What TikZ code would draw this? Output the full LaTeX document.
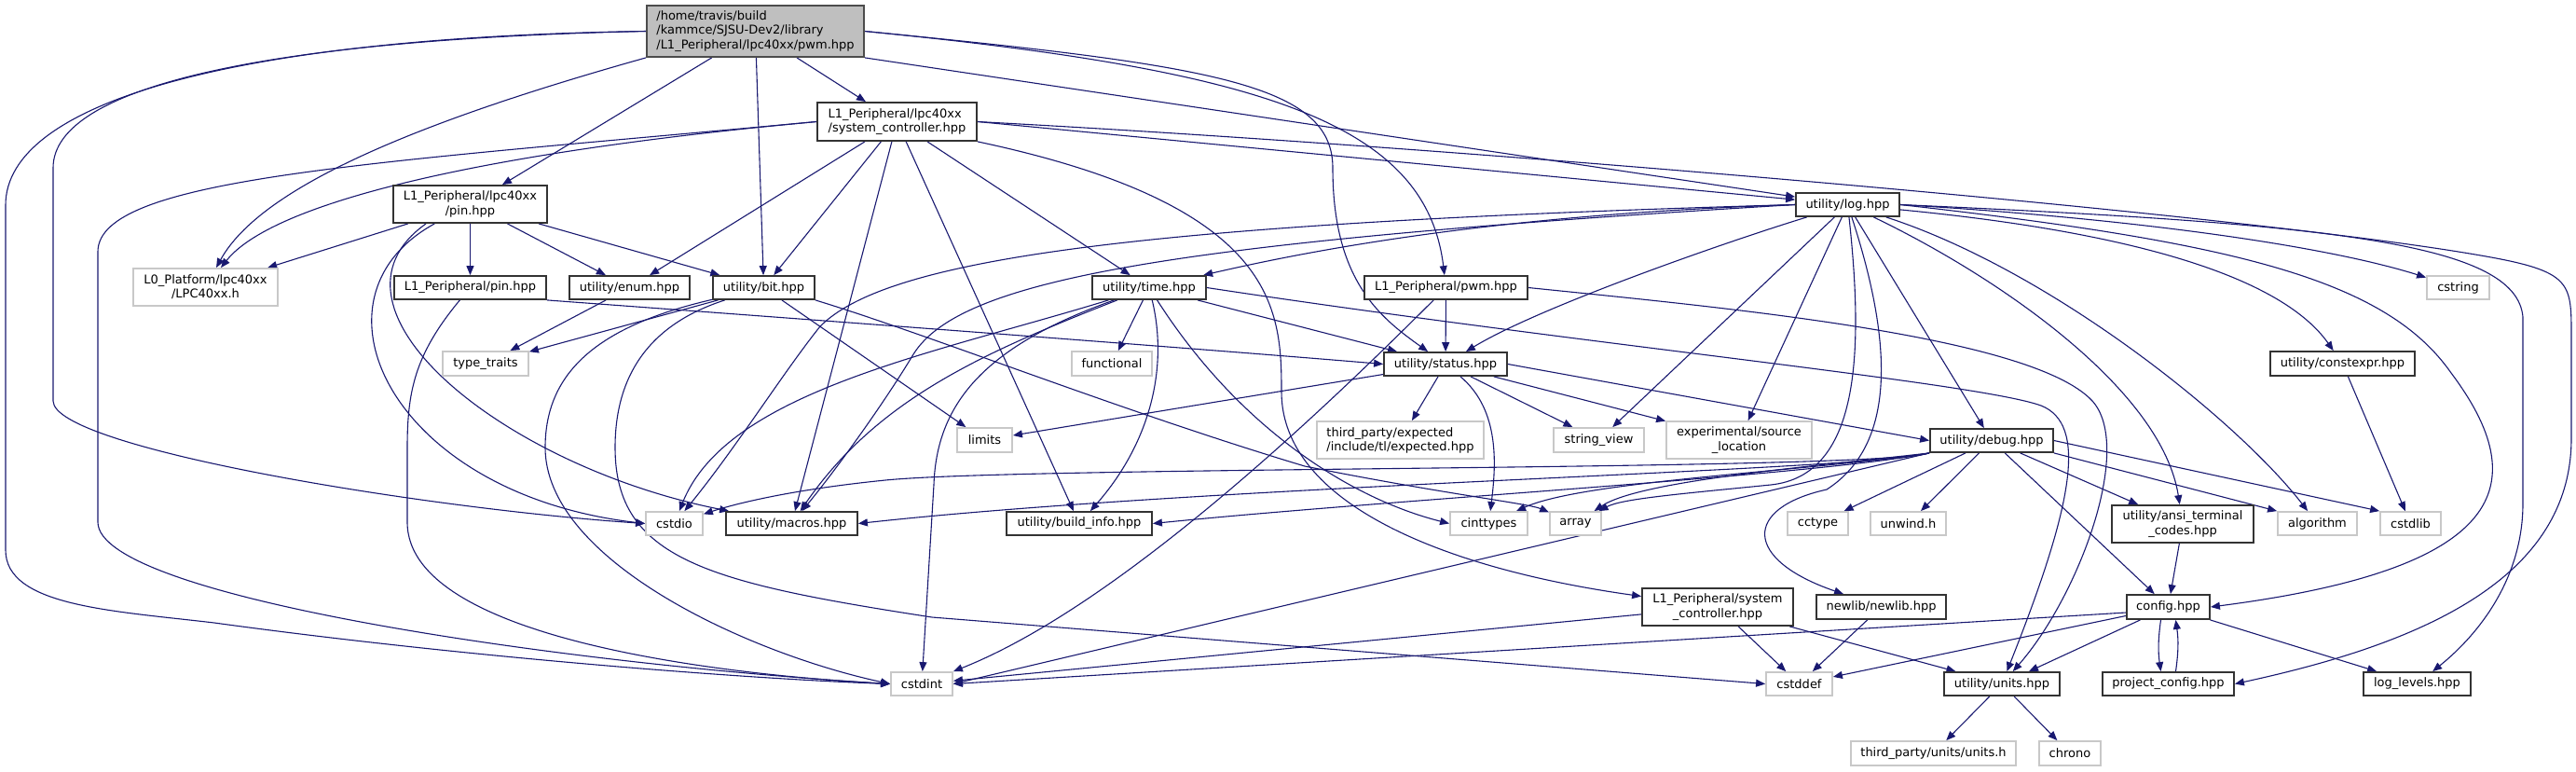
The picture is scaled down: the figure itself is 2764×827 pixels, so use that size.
\documentclass[tikz,border=0pt]{standalone}
\usepackage{fontspec}
\usepackage{xcolor}
\usepackage{tikz}
\usetikzlibrary{arrows.meta,backgrounds}
\newfontfamily\dxfont{DejaVu Sans}
\definecolor{edgeblue}{RGB}{25,25,112}
\definecolor{rootgray}{RGB}{191,191,191}
\definecolor{extgray}{RGB}{200,200,200}

\begin{document}
\begin{tikzpicture}[
  x=0.5pt, y=-0.5pt,
  file/.style={draw=black!80, line width=0.9pt, fill=white, inner sep=0pt, align=center,
    font=\dxfont\fontsize{6.5}{7.6}\selectfont},
  ext/.style={file, draw=extgray},
  top/.style={file, fill=rootgray, draw=black!70},
  sz/.style 2 args={minimum width=#1*0.5pt, minimum height=#2*0.5pt},
  inc/.style={-{Triangle[length=5pt, width=4pt]}, color=edgeblue, line width=0.55pt}
]
\useasboundingbox (0,0) rectangle (2764,827);

\node[top, sz={233}{55}, align=left] (root) at (810.5,33.5) {/home/travis/build\\/kammce/SJSU-Dev2/library\\/L1\_Peripheral/lpc40xx/pwm.hpp};
\node[file, sz={171}{41}, align=left] (sysctllpc) at (962.5,130.5) {L1\_Peripheral/lpc40xx\\/system\_controller.hpp};
\node[file, sz={165}{40}] (pinlpc) at (504.5,219) {L1\_Peripheral/lpc40xx\\/pin.hpp};
\node[file, sz={111}{25}] (log) at (1982.5,219.5) {utility/log.hpp};
\node[ext, sz={155}{40}] (lpc40xx) at (220.5,308) {L0\_Platform/lpc40xx\\/LPC40xx.h};
\node[file, sz={163}{25}] (pin) at (504.5,308.5) {L1\_Peripheral/pin.hpp};
\node[file, sz={129}{25}] (enum) at (675.5,308.5) {utility/enum.hpp};
\node[file, sz={109}{25}] (bit) at (819.5,308.5) {utility/bit.hpp};
\node[file, sz={122}{25}] (time) at (1233,308.5) {utility/time.hpp};
\node[file, sz={175}{25}] (pwm) at (1551.5,308.5) {L1\_Peripheral/pwm.hpp};
\node[ext, sz={67}{25}] (cstring) at (2637.5,308.5) {cstring};
\node[ext, sz={92}{26}] (typetraits) at (521,390) {type\_traits};
\node[ext, sz={86}{26}] (functional) at (1193,390) {functional};
\node[file, sz={132}{25}] (status) at (1551,390.5) {utility/status.hpp};
\node[file, sz={155}{26}] (constexpr) at (2513.5,390) {utility/constexpr.hpp};
\node[ext, sz={59}{26}] (limits) at (1056.5,472) {limits};
\node[ext, sz={179}{40}, align=left] (expected) at (1502.5,472) {third\_party/expected\\/include/tl/expected.hpp};
\node[ext, sz={97}{26}] (stringview) at (1715.5,472) {string\_view};
\node[ext, sz={156}{40}] (srcloc) at (1866,472) {experimental/source\\\_location};
\node[file, sz={132}{25}] (debug) at (2137,472.5) {utility/debug.hpp};
\node[ext, sz={61}{25}] (cstdio) at (723.5,561.5) {cstdio};
\node[file, sz={141}{25}] (macros) at (849.5,561.5) {utility/macros.hpp};
\node[file, sz={156}{25}] (buildinfo) at (1158,561.5) {utility/build\_info.hpp};
\node[ext, sz={83}{25}] (cinttypes) at (1597.5,561.5) {cinttypes};
\node[ext, sz={55}{25}] (array) at (1690.5,561.5) {array};
\node[ext, sz={65}{25}] (cctype) at (1950.5,561.5) {cctype};
\node[ext, sz={81}{25}] (unwind) at (2047.5,561.5) {unwind.h};
\node[file, sz={152}{40}] (ansi) at (2342,562) {utility/ansi\_terminal\\\_codes.hpp};
\node[ext, sz={85}{25}] (algorithm) at (2486.5,561.5) {algorithm};
\node[ext, sz={65}{25}] (cstdlib) at (2586.5,561.5) {cstdlib};
\node[file, sz={162}{40}] (sysctl) at (1843,651) {L1\_Peripheral/system\\\_controller.hpp};
\node[file, sz={139}{26}] (newlib) at (2018.5,651) {newlib/newlib.hpp};
\node[file, sz={89}{26}] (config) at (2326.5,651) {config.hpp};
\node[ext, sz={66}{25}] (cstdint) at (989,733.5) {cstdint};
\node[ext, sz={71}{25}] (cstddef) at (1930.5,733.5) {cstddef};
\node[file, sz={124}{25}] (units) at (2148,733.5) {utility/units.hpp};
\node[file, sz={141}{25}] (projcfg) at (2326.5,733.5) {project\_config.hpp};
\node[file, sz={115}{25}] (loglevels) at (2593.5,733.5) {log\_levels.hpp};
\node[ext, sz={177}{26}] (tpunits) at (2074.5,808) {third\_party/units/units.h};
\node[ext, sz={66}{26}] (chrono) at (2221,808) {chrono};

\begin{pgfonlayer}{background}
\draw[inc] (root) -- (sysctllpc);
\draw[inc] (root) -- (pinlpc);
\draw[inc] (root) -- (bit);
\draw[inc] (root.south west) .. controls (450,130) and (280,200) .. (lpc40xx);
\draw[inc] (root.west) .. controls (300,42) and (57,90) .. (57,180) -- (57,430) .. controls (57,480) and (450,545) .. (cstdio.west);
\draw[inc] (root.west) .. controls (250,40) and (6,110) .. (6,220) -- (6,590) .. controls (6,650) and (120,655) .. (230,668) .. controls (500,705) and (800,728) .. (cstdint.west);
\draw[inc] (root.south east) -- (log);
\draw[inc] (root.east) .. controls (1300,70) and (1430,90) .. (1430,180) .. controls (1430,300) and (1480,340) .. (status);
\draw[inc] (root.east) .. controls (1350,75) and (1530,130) .. (pwm);

\draw[inc] (sysctllpc.west) .. controls (500,165) and (290,220) .. (lpc40xx);
\draw[inc] (sysctllpc.west) .. controls (400,175) and (105,190) .. (105,270) -- (105,560) .. controls (105,640) and (600,712) .. (cstdint.west);
\draw[inc] (sysctllpc) -- (enum);
\draw[inc] (sysctllpc) -- (bit);
\draw[inc] (sysctllpc) -- (macros);
\draw[inc] (sysctllpc) -- (buildinfo);
\draw[inc] (sysctllpc) -- (time);
\draw[inc] (sysctllpc.south east) .. controls (1370,220) and (1375,330) .. (1375,420) .. controls (1375,540) and (1550,610) .. (sysctl);
\draw[inc] (sysctllpc.east) -- (log);
\draw[inc] (sysctllpc.east) .. controls (1600,160) and (2400,230) .. (2650,272) .. controls (2759,290) and (2759,300) .. (2759,360) -- (2759,470) .. controls (2759,620) and (2600,690) .. (projcfg.east);

\draw[inc] (pinlpc) -- (lpc40xx);
\draw[inc] (pinlpc) -- (pin);
\draw[inc] (pinlpc) -- (enum);
\draw[inc] (pinlpc) -- (bit);
\draw[inc] (pinlpc) .. controls (320,320) and (420,530) .. (cstdio.west);
\draw[inc] ([xshift=18pt]pinlpc.south west) .. controls (330,330) and (540,500) .. (macros);

\draw[inc] (pin.south east) .. controls (900,345) and (1300,375) .. (status.west);
\draw[inc] (pin) .. controls (445,380) and (437,420) .. (437,480) -- (437,560) .. controls (437,690) and (800,725) .. (cstdint.west);
\draw[inc] (enum) -- (typetraits);

\draw[inc] (bit) -- (typetraits);
\draw[inc] (bit) -- (limits);
\draw[inc] (bit.south east) .. controls (1000,360) and (1200,440) .. (1400,500) .. controls (1550,530) and (1640,540) .. (array);
\draw[inc] (bit) .. controls (640,350) and (585,400) .. (585,480) .. controls (585,600) and (800,700) .. (cstdint.west);
\draw[inc] (bit) .. controls (690,350) and (660,410) .. (660,480) .. controls (660,600) and (760,625) .. (1000,662) -- (cstddef.west);

\draw[inc] (time) -- (functional);
\draw[inc] (time) -- (status);
\draw[inc] (time) .. controls (1255,400) and (1230,480) .. (buildinfo);
\draw[inc] (time) .. controls (1330,460) and (1450,535) .. (cinttypes.west);
\draw[inc] (time.east) .. controls (1700,370) and (2120,410) .. (2190,435) .. controls (2240,455) and (2225,540) .. (units);
\draw[inc] (time) .. controls (1000,380) and (780,420) .. (cstdio);
\draw[inc] (time) .. controls (1050,380) and (940,430) .. (macros);
\draw[inc] (time) .. controls (1060,370) and (1005,430) .. (1002,520) -- (cstdint);

\draw[inc] (pwm) -- (status);
\draw[inc] (pwm) .. controls (1420,440) and (1200,650) .. (cstdint);
\draw[inc] (pwm.east) .. controls (1850,330) and (2180,360) .. (2245,430) .. controls (2290,480) and (2230,640) .. (units);

\draw[inc] (log.west) .. controls (1600,230) and (1400,270) .. (time);
\draw[inc] (log) .. controls (1850,260) and (1650,330) .. (status);
\draw[inc] (log.west) .. controls (1200,240) and (950,280) .. (880,350) .. controls (840,400) and (790,480) .. (cstdio);
\draw[inc] (log.west) .. controls (1250,260) and (1030,300) .. (980,380) .. controls (950,430) and (900,500) .. (macros);
\draw[inc] (log) -- (stringview);
\draw[inc] (log) -- (srcloc);
\draw[inc] (log) -- (debug);
\draw[inc] (log) .. controls (2000,380) and (1995,510) .. (1900,520) .. controls (1800,530) and (1740,535) .. (array);
\draw[inc] (log) .. controls (2035,380) and (2030,480) .. (1960,525) .. controls (1870,545) and (1870,600) .. (newlib);
\draw[inc] (log) .. controls (2150,300) and (2320,420) .. (ansi);
\draw[inc] (log) .. controls (2200,290) and (2400,450) .. (algorithm);
\draw[inc] (log.east) .. controls (2400,260) and (2560,300) .. (2630,400) .. controls (2720,520) and (2690,610) .. (config.east);
\draw[inc] (log) .. controls (2300,250) and (2450,300) .. (constexpr);
\draw[inc] (log.east) .. controls (2300,235) and (2500,265) .. (cstring);
\draw[inc] (log.east) .. controls (2500,240) and (2700,260) .. (2707,340) -- (2707,540) .. controls (2707,620) and (2660,680) .. (loglevels);

\draw[inc] (status) -- (expected);
\draw[inc] (status) -- (stringview);
\draw[inc] (status) -- (srcloc);
\draw[inc] (status.east) -- (debug.west);
\draw[inc] (status) -- (limits);
\draw[inc] (status) .. controls (1610,440) and (1605,500) .. (cinttypes);
\draw[inc] (constexpr) -- (cstdlib);

\draw[inc] (debug.south west) .. controls (2000,505) and (1100,500) .. (950,515) .. controls (850,525) and (790,540) .. (cstdio);
\draw[inc] (debug.south west) .. controls (2000,505) and (1300,520) .. (macros.east);
\draw[inc] (debug.south west) .. controls (1950,510) and (1500,535) .. (buildinfo.east);
\draw[inc] (debug.south west) .. controls (1950,505) and (1700,515) .. (cinttypes);
\draw[inc] (debug.south west) .. controls (1950,500) and (1760,515) .. (array);
\draw[inc] (debug.south west) -- (cstdint.east);
\draw[inc] (debug) -- (cctype);
\draw[inc] (debug) -- (unwind);
\draw[inc] (debug) -- (ansi);
\draw[inc] (debug.south east) -- (algorithm.north west);
\draw[inc] (debug.east) -- (cstdlib.north west);
\draw[inc] (debug) -- (config);

\draw[inc] (ansi) -- (config);
\draw[inc] (sysctl) -- (cstdint);
\draw[inc] (sysctl) -- (cstddef);
\draw[inc] (sysctl) -- (units);
\draw[inc] (newlib) -- (cstddef);
\draw[inc] ([yshift=-3pt]config.west) -- (cstdint.east);
\draw[inc] (config) -- (cstddef);
\draw[inc] (config) -- (units);
\draw[inc] ([xshift=-4pt]config.south) to[bend right=8] ([xshift=-4pt]projcfg.north);
\draw[inc] ([xshift=4pt]projcfg.north) to[bend right=8] ([xshift=4pt]config.south);
\draw[inc] (config) -- (loglevels);
\draw[inc] (units) -- (tpunits);
\draw[inc] (units) -- (chrono);
\end{pgfonlayer}
\end{tikzpicture}
\end{document}
